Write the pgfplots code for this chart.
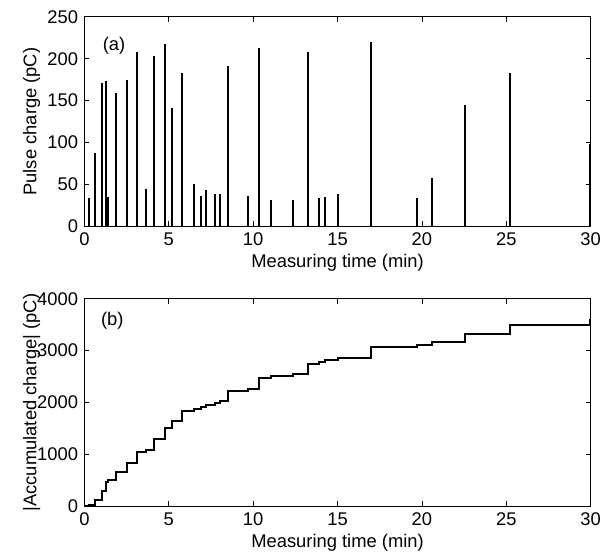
\documentclass[border=0pt]{standalone}
\usepackage{fontspec}
\setmainfont{Liberation Sans}
\usepackage{pgfplots}
\pgfplotsset{compat=1.18}
\pgfplotsset{
  mystyle/.style={
    scale only axis, width=510pt,
    xmin=0, xmax=30, xtick={0,5,...,30},
    tick align=inside, major tick length=5pt,
    axis line style={line width=0.8pt},
    tick style={line width=0.8pt, black},
    /pgf/number format/assume math mode=true,
    /pgf/number format/1000 sep={},
    scaled ticks=false,
    xlabel={Measuring time (min)},
    xlabel style={at={(axis description cs:0.5,0)}, anchor=center, yshift=-37pt},
    ylabel style={at={(axis description cs:-0.104,0.5)}, anchor=center},
  }
}
\begin{document}
\fontsize{18.5}{22}\selectfont
\begin{tikzpicture}
\begin{axis}[mystyle, name=top, height=211pt,
  ymin=0, ymax=250, ytick={0,50,...,250},
  ylabel={Pulse charge (pC)}]
\addplot[ycomb, black, line width=2pt] coordinates {
(0.25,34) (0.61,88) (1.02,171) (1.29,173) (1.41,35) (1.90,159) (2.55,175)
(3.10,208) (3.66,45) (4.14,203) (4.76,218) (5.18,141) (5.80,183) (6.49,50)
(6.90,36) (7.19,43) (7.72,38) (8.02,39) (8.49,191) (9.72,36) (10.33,213)
(11.04,32) (12.35,32) (13.25,208) (13.88,34) (14.24,35) (15.00,39) (17.00,220)
(19.71,34) (20.60,58) (22.53,145) (25.24,183) (29.95,98)
};
\node at (axis cs:1.76,216) {(a)};
\end{axis}
\begin{axis}[mystyle, name=bot, at={(top.south west)}, anchor=north west, yshift=-73pt, height=209pt,
  ymin=0, ymax=4000, ytick={0,1000,...,4000},
  ylabel={|Accumulated charge| (pC)}]
\addplot[const plot, black, line width=2pt] coordinates {
(0,0) (0.25,34) (0.61,122) (1.02,293) (1.29,466) (1.41,501) (1.90,660) (2.55,835)
(3.10,1043) (3.66,1088) (4.14,1291) (4.76,1509) (5.18,1650) (5.80,1833) (6.49,1883)
(6.90,1919) (7.19,1962) (7.72,2000) (8.02,2039) (8.49,2230) (9.72,2266) (10.33,2479)
(11.04,2511) (12.35,2543) (13.25,2751) (13.88,2785) (14.24,2820) (15.00,2859) (17.00,3079)
(19.71,3113) (20.60,3171) (22.53,3316) (25.24,3499) (29.95,3597) (30,3597)
};
\node at (axis cs:1.65,3572) {(b)};
\end{axis}
\path (top.north west) ++(-85pt,17pt) rectangle ++(607pt,-559pt);
\end{tikzpicture}
\end{document}
